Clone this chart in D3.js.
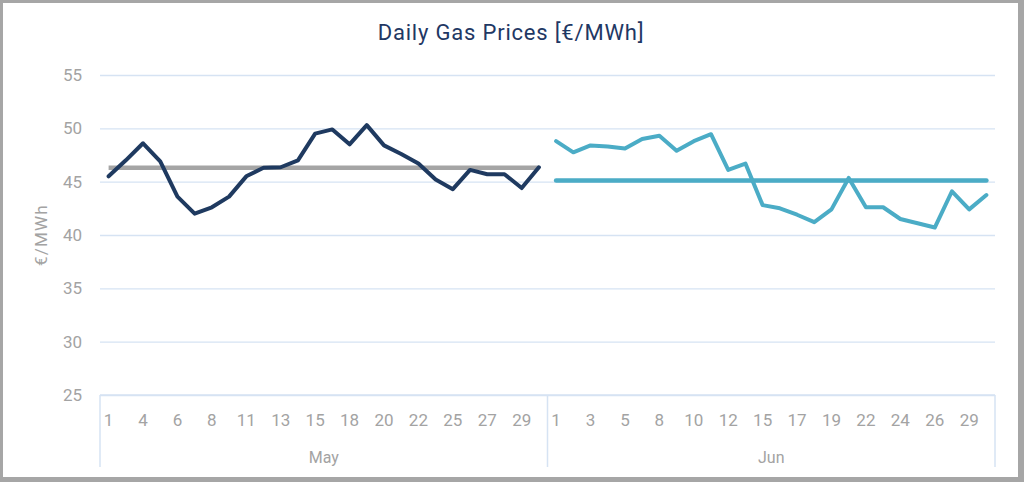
<!DOCTYPE html>
<html>
<head>
<meta charset="utf-8">
<script src="https://cdn.jsdelivr.net/npm/d3@7"></script>
<style>
  html, body { margin: 0; padding: 0; background: #fff; }
  svg { display: block; font-family: Roboto, 'Liberation Sans', sans-serif; }
</style>
</head>
<body>
<svg id="chart" width="1024" height="482"></svg>
<script>
// ------------------
// Data
// ------------------
const mayDays = [1, 3, 4, 5, 6, 7, 8, 10, 11, 12, 13, 14, 15, 17, 18, 19, 20, 21, 22, 24, 25, 26, 27, 28, 29, 31]
const junDays = [1, 2, 3, 4, 5, 7, 8, 9, 10, 11, 12, 14, 15, 16, 17, 18, 19, 21, 22, 23, 24, 25, 26, 28, 29, 30]

const mayPrices = [45.5, 47.0, 48.6, 46.9, 43.6, 42.0, 42.6, 43.6, 45.5, 46.3, 46.35, 47.0, 49.5,
  49.9, 48.5, 50.3, 48.4, 47.6, 46.7, 45.2, 44.3, 46.1, 45.7, 45.7, 44.4, 46.35]
const junPrices = [48.8, 47.75, 48.4, 48.3, 48.1, 49.0, 49.3, 47.9, 48.8, 49.45, 46.1, 46.7, 42.8,
  42.5, 41.9, 41.2, 42.4, 45.35, 42.6, 42.6, 41.5, 41.1, 40.7, 44.1, 42.4, 43.75]

const mayAverage = 46.3
const junAverage = 45.1

const yTicks = [25, 30, 35, 40, 45, 50, 55]
const months = ['May', 'Jun']

// ------------------
// Setup
// ------------------
const width = 1024
const height = 482
const svg = d3.select('#chart')

// grey frame
svg.append('rect').attr('width', width).attr('height', height).attr('fill', '#a6a6a6')
svg.append('rect')
  .attr('x', 3).attr('y', 3)
  .attr('width', width - 9).attr('height', height - 8)
  .attr('fill', '#fff')

const plot = { left: 100, right: 995, top: 75, bottom: 395 }

const mayKeys = mayDays.map(d => `May-${d}`)
const junKeys = junDays.map(d => `Jun-${d}`)

const x = d3.scaleBand()
  .domain(mayKeys.concat(junKeys))
  .range([plot.left, plot.right])
  .padding(0)

const y = d3.scaleLinear()
  .domain([25, 55])
  .range([plot.bottom, plot.top])

const cx = k => x(k) + x.bandwidth() / 2

// ------------------
// Title
// ------------------
svg.append('text')
  .attr('x', 511)
  .attr('y', 40)
  .attr('text-anchor', 'middle')
  .attr('font-size', 22)
  .attr('letter-spacing', 0.8)
  .attr('fill', '#1f3864')
  .text('Daily Gas Prices [€/MWh]')

// ------------------
// Gridlines + y axis
// ------------------
const yAxis = d3.axisLeft(y)
  .tickValues(yTicks)
  .tickSize(-(plot.right - plot.left))
  .tickPadding(18)

const yG = svg.append('g')
  .attr('transform', `translate(${plot.left},0)`)
  .call(yAxis)
yG.select('.domain').remove()
yG.selectAll('line').attr('stroke', '#d6e3f3').attr('stroke-width', 1.3)
yG.selectAll('text')
  .attr('font-size', 17)
  .attr('fill', '#a3a3a3')
  .attr('font-family', 'Roboto, sans-serif')

svg.append('text')
  .attr('transform', `translate(47,${(plot.top + plot.bottom) / 2}) rotate(-90)`)
  .attr('text-anchor', 'middle')
  .attr('font-size', 17)
  .attr('letter-spacing', 1.2)
  .attr('fill', '#a3a3a3')
  .text('€/MWh')

// ------------------
// X axis (grouped categories)
// ------------------
const xAxisColor = '#d6e3f3'
const xG = svg.append('g')

xG.append('line')
  .attr('x1', plot.left).attr('x2', plot.right)
  .attr('y1', plot.bottom).attr('y2', plot.bottom)
  .attr('stroke', xAxisColor).attr('stroke-width', 1.5)

const groups = [mayKeys, junKeys]
const boundaries = [x(mayKeys[0]), x(junKeys[0]), x(junKeys[junKeys.length - 1]) + x.bandwidth()]
boundaries.forEach(bx => {
  xG.append('line')
    .attr('x1', bx).attr('x2', bx)
    .attr('y1', plot.bottom).attr('y2', 467)
    .attr('stroke', xAxisColor).attr('stroke-width', 1.5)
})

groups.forEach((keys, gi) => {
  xG.selectAll(null)
    .data(keys.filter((k, i) => i % 2 === 0))
    .enter()
    .append('text')
    .attr('x', d => cx(d))
    .attr('y', 426)
    .attr('text-anchor', 'middle')
    .attr('font-size', 17)
    .attr('fill', '#a3a3a3')
    .text(d => d.split('-')[1])

  xG.append('text')
    .attr('x', (boundaries[gi] + boundaries[gi + 1]) / 2)
    .attr('y', 463)
    .attr('text-anchor', 'middle')
    .attr('font-size', 16)
    .attr('fill', '#a3a3a3')
    .text(months[gi])
})

// ------------------
// Lines
// ------------------
const line = d3.line()
  .x(d => cx(d.key))
  .y(d => y(d.value))

const maySeries = mayKeys.map((k, i) => ({ key: k, value: mayPrices[i] }))
const junSeries = junKeys.map((k, i) => ({ key: k, value: junPrices[i] }))
const mayAvgSeries = mayKeys.map(k => ({ key: k, value: mayAverage }))
const junAvgSeries = junKeys.map(k => ({ key: k, value: junAverage }))

svg.append('path')
  .datum(mayAvgSeries)
  .attr('d', line)
  .attr('fill', 'none')
  .attr('stroke', '#a5a5a5')
  .attr('stroke-width', 4.5)

svg.append('path')
  .datum(junAvgSeries)
  .attr('d', line)
  .attr('fill', 'none')
  .attr('stroke', '#4bacc6')
  .attr('stroke-width', 4.5)
  .attr('stroke-linecap', 'round')

svg.append('path')
  .datum(maySeries)
  .attr('d', line)
  .attr('fill', 'none')
  .attr('stroke', '#1f3a60')
  .attr('stroke-width', 4)
  .attr('stroke-linejoin', 'round')
  .attr('stroke-linecap', 'round')

svg.append('path')
  .datum(junSeries)
  .attr('d', line)
  .attr('fill', 'none')
  .attr('stroke', '#4bacc6')
  .attr('stroke-width', 4)
  .attr('stroke-linejoin', 'round')
  .attr('stroke-linecap', 'round')
</script>
</body>
</html>
